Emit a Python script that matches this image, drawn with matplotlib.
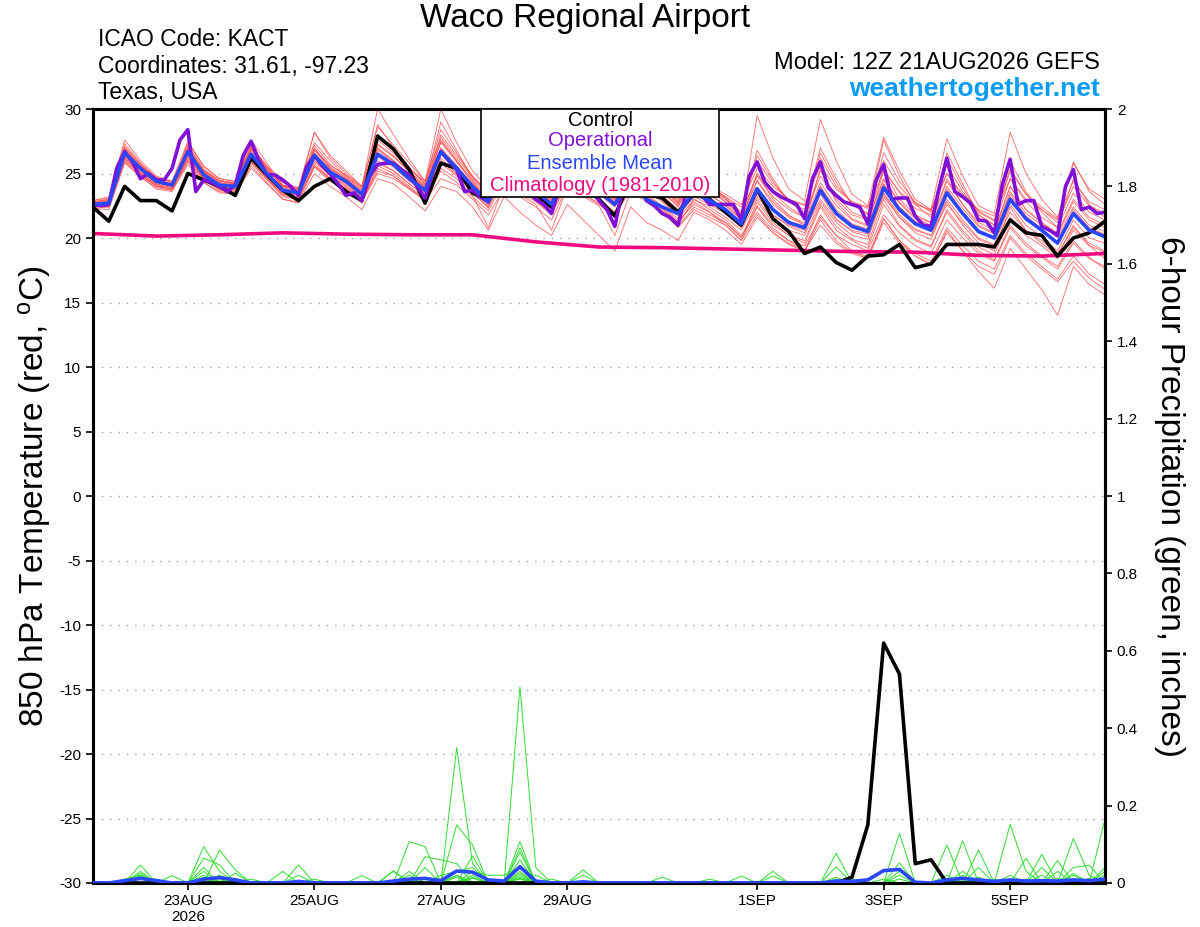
import matplotlib
matplotlib.use("Agg")
import matplotlib.pyplot as plt
import numpy as np
from matplotlib.patches import Rectangle

plt.rcParams['font.family'] = 'Liberation Sans'
plt.rcParams['mathtext.fontset'] = 'custom'
plt.rcParams['mathtext.rm'] = 'Liberation Sans'
plt.rcParams['mathtext.it'] = 'Liberation Sans'

# ---- DATA ----
# 6-hourly steps from 21AUG 12Z, 3-hourly for the operational run
hrs6 = np.arange(0, 385, 6)
hrs3 = np.arange(0, 385, 3)
hrs24 = np.arange(0, 385, 24)

tick_hours = [36, 84, 132, 180, 252, 300, 348]
tick_labels = ['23AUG\n2026', '25AUG', '27AUG', '29AUG', '1SEP', '3SEP', '5SEP']

control_t = [22.4, 21.3, 24.0, 22.9, 22.9, 22.1, 25.0, 24.5, 24.0, 23.3, 26.2, 24.9, 23.7, 22.9,
             24.0, 24.6, 23.6, 22.9, 27.9, 26.9, 25.3, 22.7, 25.8, 25.4, 23.5, 22.9, 25.2, 24.4,
             23.4, 22.4, 25.0, 24.0, 23.0, 21.7, 24.5, 23.4, 23.1, 22.0, 23.4, 23.0, 22.0, 21.0,
             23.8, 21.5, 20.5, 18.8, 19.3, 18.1, 17.5, 18.6, 18.7, 19.5, 17.7, 18.0, 19.5, 19.5,
             19.5, 19.3, 21.4, 20.4, 20.2, 18.6, 20.0, 20.4, 21.3]

mean_t = [22.6, 22.7, 26.6, 25.4, 24.4, 24.1, 26.7, 24.9, 24.1, 24.0, 26.5, 25.0, 23.7, 23.5,
          26.4, 25.1, 24.4, 23.4, 26.5, 25.7, 24.6, 23.7, 26.7, 25.4, 24.0, 22.8, 25.6, 24.6,
          23.6, 22.6, 25.4, 24.4, 23.6, 22.6, 24.6, 23.0, 22.4, 21.9, 23.5, 22.9, 22.2, 21.1,
          23.8, 22.2, 21.2, 20.8, 23.7, 21.9, 20.9, 20.5, 23.9, 22.2, 21.1, 20.6, 23.5, 21.9,
          20.5, 20.0, 23.0, 21.5, 20.6, 19.6, 21.9, 20.6, 20.1]

oper_t = [22.6, 22.5, 22.6, 25.4, 26.7, 25.9, 24.6, 25.0, 24.5, 24.5, 25.4, 27.6, 28.4, 23.6,
          24.5, 24.3, 24.0, 23.6, 24.1, 26.4, 27.5, 26.0, 24.9, 24.9, 24.5, 24.0, 23.3, 25.5,
          26.4, 25.6, 25.0, 24.2, 23.3, 23.5, 22.9, 24.8, 25.7, 25.8, 25.8, 25.3, 24.9, 24.0,
          23.1, 25.2, 26.7, 26.0, 25.3, 23.6, 23.7, 23.2, 22.8, 24.5, 25.8, 25.2, 24.6, 23.6,
          23.0, 22.6, 21.9, 24.0, 25.6, 25.0, 24.4, 23.8, 22.9, 22.2, 20.9, 23.8, 25.5, 24.6,
          22.9, 22.5, 21.9, 21.6, 21.0, 23.5, 25.2, 23.3, 22.6, 22.6, 22.6, 22.6, 21.4, 24.8,
          25.9, 24.3, 23.6, 23.2, 22.9, 22.6, 21.5, 24.6, 25.9, 23.9, 23.3, 22.8, 22.6, 22.4,
          21.1, 24.4, 25.7, 23.0, 23.1, 23.1, 21.7, 21.0, 20.9, 23.8, 26.2, 23.6, 23.2, 22.7,
          21.4, 21.3, 20.4, 24.1, 26.1, 22.6, 22.9, 22.9, 20.9, 20.6, 20.2, 24.0, 25.3, 22.2,
          22.4, 21.9, 22.0]

climo_t = [20.35, 20.15, 20.25, 20.4, 20.3, 20.25, 20.25, 19.7, 19.3, 19.25, 19.15, 19.05,
           18.95, 18.9, 18.65, 18.6, 18.8]

members_t = [
    [22.8, 23.0, 27.3, 25.8, 24.6, 24.0, 27.2, 25.3, 24.5, 24.2, 27.0, 25.6, 24.3, 23.9, 27.4, 26.0, 24.8, 23.9, 28.8, 27.0, 25.5, 24.2, 29.0, 26.8, 24.6, 23.5, 27.0, 25.8, 24.5, 23.4, 26.8, 25.5, 24.2, 23.2, 26.2, 25.0, 23.8, 22.8, 25.0, 24.0, 23.0, 21.8, 25.0, 23.5, 22.4, 21.6, 25.2, 23.3, 22.0, 21.5, 25.4, 23.5, 22.3, 21.8, 25.0, 23.2, 21.8, 21.0, 24.6, 22.8, 21.6, 20.8, 23.5, 22.0, 21.4],
    [22.3, 22.2, 25.8, 24.8, 23.8, 23.6, 25.9, 24.3, 23.5, 23.4, 25.6, 24.3, 23.0, 22.8, 25.5, 24.4, 23.7, 22.8, 25.0, 24.6, 23.8, 22.9, 25.2, 24.3, 23.2, 22.1, 24.4, 23.6, 22.8, 21.8, 24.2, 23.4, 22.7, 21.7, 23.8, 22.9, 22.0, 20.9, 22.4, 21.8, 21.2, 20.1, 22.5, 21.0, 20.2, 19.6, 22.4, 20.6, 19.8, 19.2, 22.6, 20.9, 19.8, 19.3, 22.2, 20.6, 19.3, 18.7, 21.6, 20.2, 19.4, 18.4, 20.6, 19.4, 18.9],
    [22.6, 22.9, 26.9, 25.6, 24.7, 24.3, 27.0, 25.2, 24.4, 24.3, 27.6, 25.8, 24.1, 23.9, 28.2, 26.2, 25.0, 24.0, 30.0, 28.0, 26.1, 24.4, 30.0, 27.4, 25.2, 23.8, 27.8, 26.0, 24.5, 23.1, 27.2, 25.6, 24.3, 23.0, 26.5, 25.2, 23.9, 22.6, 25.0, 24.2, 23.1, 21.8, 29.5, 26.2, 23.8, 22.9, 29.2, 26.0, 23.4, 22.5, 27.8, 25.2, 23.0, 22.2, 27.7, 24.8, 22.5, 21.9, 28.2, 25.0, 23.0, 21.6, 25.9, 23.6, 22.6],
    [22.5, 22.6, 26.4, 25.2, 24.3, 24.0, 26.5, 24.8, 24.0, 23.8, 26.2, 24.9, 23.6, 23.3, 26.0, 24.8, 24.1, 23.1, 26.0, 25.2, 24.2, 23.3, 26.2, 25.0, 23.7, 22.5, 25.0, 24.2, 23.2, 22.2, 24.8, 23.9, 23.0, 22.0, 24.0, 23.2, 22.3, 21.2, 22.8, 22.0, 21.0, 19.8, 22.4, 20.8, 19.8, 19.0, 21.8, 20.2, 19.0, 18.4, 21.5, 19.8, 18.6, 17.9, 20.6, 19.0, 17.4, 16.1, 19.2, 17.6, 16.0, 14.0, 17.8, 16.4, 15.6],
    [22.7, 22.8, 26.8, 25.5, 24.6, 24.4, 26.9, 25.2, 24.4, 24.3, 26.9, 25.4, 24.0, 23.8, 26.9, 25.6, 24.9, 24.0, 27.6, 26.6, 25.3, 24.4, 27.8, 26.2, 24.7, 23.6, 26.6, 25.5, 24.4, 23.4, 26.4, 25.3, 24.4, 23.5, 25.8, 24.9, 24.0, 23.0, 24.4, 23.8, 23.2, 22.4, 26.0, 24.2, 23.0, 22.5, 26.2, 24.0, 22.8, 22.3, 26.0, 24.0, 22.7, 22.1, 25.6, 23.6, 22.1, 21.4, 25.2, 23.4, 22.2, 21.2, 24.0, 22.5, 21.9],
    [22.4, 22.5, 26.2, 25.0, 24.1, 23.8, 26.3, 24.6, 23.8, 23.6, 26.0, 24.6, 23.3, 23.0, 25.8, 24.6, 23.9, 22.9, 25.4, 24.8, 23.8, 22.9, 24.6, 24.1, 23.0, 21.8, 23.8, 23.2, 22.4, 21.4, 24.0, 23.4, 22.6, 21.6, 24.2, 23.2, 22.2, 21.0, 23.0, 22.2, 21.4, 20.2, 22.0, 20.6, 19.8, 19.4, 21.6, 20.2, 19.5, 19.0, 21.8, 20.4, 19.4, 18.8, 21.4, 20.0, 18.8, 18.2, 20.8, 19.4, 18.5, 17.6, 19.6, 18.4, 17.8],
    [22.9, 23.1, 27.0, 25.7, 24.5, 24.1, 27.4, 25.5, 24.6, 24.4, 27.1, 25.4, 24.0, 23.7, 27.0, 25.4, 24.5, 23.5, 27.2, 26.3, 25.1, 24.0, 27.5, 26.0, 24.4, 23.1, 26.1, 25.0, 23.9, 22.9, 25.9, 24.8, 23.9, 22.8, 25.4, 24.3, 23.3, 22.2, 24.0, 23.3, 22.6, 21.5, 24.5, 22.8, 21.7, 21.2, 24.3, 22.5, 21.4, 20.9, 24.5, 22.7, 21.5, 21.0, 24.0, 22.3, 20.9, 20.3, 23.6, 21.9, 21.0, 20.0, 22.4, 21.0, 20.5],
    [22.5, 22.7, 26.5, 25.3, 24.4, 24.2, 26.6, 24.9, 24.2, 24.1, 26.3, 25.1, 23.9, 23.6, 26.8, 25.4, 24.6, 23.6, 27.0, 26.0, 24.9, 23.9, 26.9, 25.6, 24.2, 23.0, 25.8, 24.8, 23.8, 22.8, 25.6, 24.6, 23.8, 22.9, 25.2, 24.2, 23.2, 22.1, 24.2, 23.4, 22.5, 21.4, 25.0, 23.0, 21.8, 21.0, 25.4, 22.8, 21.5, 21.0, 25.2, 23.0, 21.8, 21.2, 24.6, 22.6, 21.0, 20.4, 24.0, 22.2, 21.2, 20.2, 22.8, 21.4, 20.8],
    [22.6, 22.4, 26.0, 24.9, 24.0, 23.7, 26.1, 24.5, 23.7, 23.5, 25.8, 24.5, 23.2, 23.0, 25.6, 24.5, 23.8, 22.7, 25.6, 25.0, 24.0, 23.1, 25.8, 24.8, 23.5, 22.3, 24.9, 24.0, 23.0, 22.0, 24.6, 23.8, 23.0, 22.0, 24.2, 23.3, 22.4, 21.3, 22.6, 22.0, 21.2, 20.0, 22.8, 21.2, 20.2, 19.8, 22.6, 20.9, 19.9, 19.5, 23.0, 21.0, 19.9, 19.4, 22.0, 20.4, 19.0, 18.3, 21.0, 19.6, 18.6, 17.8, 19.8, 18.5, 17.6],
    [22.7, 22.9, 27.1, 25.8, 24.7, 24.3, 26.8, 25.1, 24.3, 24.2, 26.8, 25.3, 24.0, 23.8, 26.5, 25.2, 24.5, 23.5, 26.8, 25.9, 24.8, 23.9, 27.4, 25.9, 24.3, 23.0, 26.4, 25.2, 24.0, 22.9, 26.0, 24.9, 24.0, 23.0, 25.6, 24.6, 23.6, 22.4, 24.8, 24.0, 23.2, 22.0, 26.4, 24.4, 22.8, 22.2, 26.6, 24.3, 22.6, 21.9, 26.6, 24.4, 22.8, 22.0, 26.2, 23.9, 22.0, 21.3, 25.4, 23.4, 22.4, 21.5, 24.4, 22.8, 22.2],
    [22.4, 22.6, 26.3, 25.1, 24.2, 23.9, 26.4, 24.7, 23.9, 23.8, 26.2, 24.8, 23.5, 23.3, 26.2, 24.9, 24.2, 23.2, 26.3, 25.5, 24.4, 23.5, 26.5, 25.2, 23.8, 22.6, 25.3, 24.4, 23.4, 22.4, 25.1, 24.2, 23.4, 22.4, 24.8, 23.8, 22.8, 21.7, 23.2, 22.6, 21.9, 20.8, 23.4, 21.8, 20.9, 20.4, 23.4, 21.5, 20.5, 20.1, 23.5, 21.8, 20.7, 20.2, 23.0, 21.4, 20.0, 19.5, 22.6, 21.0, 20.1, 19.0, 21.4, 20.0, 19.6],
    [22.8, 23.0, 26.7, 25.4, 24.4, 24.1, 26.8, 25.0, 24.1, 24.0, 27.0, 25.5, 24.1, 23.6, 28.2, 26.4, 25.2, 24.0, 28.6, 27.2, 25.8, 24.4, 28.4, 26.6, 24.8, 23.4, 26.2, 25.2, 24.2, 23.0, 26.0, 25.0, 24.1, 23.1, 25.5, 24.6, 23.6, 22.5, 24.4, 23.6, 22.8, 21.6, 24.4, 22.6, 21.6, 21.0, 24.0, 22.2, 21.1, 20.7, 24.2, 22.4, 21.3, 20.8, 23.6, 22.0, 20.6, 20.0, 23.2, 21.6, 20.6, 19.6, 22.0, 20.7, 20.2],
    [22.3, 22.4, 25.9, 24.7, 23.9, 23.7, 25.7, 24.3, 23.6, 23.4, 25.4, 24.2, 23.0, 22.7, 25.0, 24.0, 23.2, 22.2, 24.6, 24.2, 23.2, 22.1, 24.0, 23.6, 22.4, 20.6, 23.2, 22.0, 21.0, 20.2, 22.6, 21.4, 20.2, 19.0, 22.4, 21.2, 20.6, 19.8, 22.0, 21.4, 20.6, 19.5, 21.6, 20.4, 19.5, 19.0, 21.4, 19.8, 18.9, 18.6, 21.5, 19.8, 18.8, 18.2, 20.8, 19.4, 18.2, 17.6, 20.2, 18.8, 17.8, 16.8, 18.6, 17.2, 16.4],
    [22.6, 22.8, 26.6, 25.4, 24.5, 24.2, 26.9, 25.1, 24.3, 24.1, 26.6, 25.1, 23.8, 23.6, 26.6, 25.3, 24.6, 23.6, 26.9, 26.0, 24.9, 24.0, 27.0, 25.6, 24.1, 22.9, 25.7, 24.7, 23.7, 22.7, 25.5, 24.5, 23.7, 22.7, 25.1, 24.1, 23.1, 22.0, 23.6, 23.0, 22.3, 21.2, 23.9, 22.3, 21.3, 20.9, 24.0, 22.0, 21.0, 20.6, 24.2, 22.3, 21.2, 20.7, 23.8, 22.0, 20.6, 20.1, 23.4, 21.7, 20.7, 19.7, 22.2, 20.8, 20.3],
    [22.5, 22.6, 26.5, 25.2, 24.2, 23.9, 26.5, 24.7, 23.9, 23.8, 26.4, 24.9, 23.6, 23.4, 26.2, 25.0, 24.3, 23.3, 26.4, 25.6, 24.5, 23.6, 26.6, 25.3, 23.9, 22.7, 25.5, 24.5, 23.5, 22.5, 25.3, 24.3, 23.5, 22.5, 25.0, 24.0, 23.0, 21.9, 24.8, 23.8, 22.8, 21.8, 26.8, 24.6, 22.8, 22.0, 27.0, 24.6, 22.6, 21.8, 27.6, 24.8, 22.6, 21.6, 26.6, 24.2, 21.8, 21.0, 26.0, 23.6, 22.0, 20.8, 24.6, 22.6, 21.6],
    [22.7, 22.7, 26.4, 25.3, 24.3, 24.0, 26.6, 24.8, 24.0, 23.9, 26.5, 25.0, 23.7, 23.5, 26.4, 25.0, 24.3, 23.3, 26.6, 25.8, 24.7, 23.8, 26.8, 25.4, 24.0, 22.8, 25.6, 24.6, 23.6, 22.6, 25.4, 24.4, 23.6, 22.6, 24.9, 23.9, 22.9, 21.8, 23.4, 22.8, 22.0, 20.9, 23.2, 21.8, 21.0, 20.6, 23.0, 21.4, 20.6, 20.3, 23.2, 21.6, 20.6, 20.2, 22.6, 21.2, 19.9, 19.4, 22.0, 20.6, 19.8, 18.8, 20.8, 19.6, 19.0],
    [22.8, 22.9, 26.9, 25.6, 24.5, 24.2, 27.1, 25.3, 24.4, 24.2, 26.9, 25.3, 24.0, 23.7, 26.8, 25.5, 24.7, 23.7, 27.3, 26.4, 25.2, 24.1, 27.6, 26.0, 24.5, 23.3, 26.4, 25.3, 24.3, 23.3, 26.2, 25.1, 24.2, 23.3, 25.6, 24.8, 23.9, 22.9, 24.6, 24.0, 23.4, 22.6, 25.4, 24.0, 23.0, 22.6, 25.6, 23.8, 22.8, 22.4, 25.2, 23.6, 22.6, 22.2, 25.0, 23.4, 22.2, 21.7, 24.6, 23.0, 22.2, 21.4, 25.8, 23.8, 23.0],
    [22.5, 22.5, 26.2, 25.0, 24.1, 23.8, 26.2, 24.6, 23.8, 23.7, 26.1, 24.7, 23.4, 23.2, 26.0, 24.8, 24.0, 23.0, 25.8, 25.2, 24.2, 23.3, 26.0, 24.9, 23.6, 22.4, 24.6, 23.8, 22.9, 21.9, 24.6, 23.7, 22.9, 21.9, 24.4, 23.4, 22.5, 21.5, 23.0, 22.4, 21.6, 20.6, 23.0, 21.4, 20.6, 20.2, 22.8, 21.2, 20.2, 19.9, 23.4, 21.6, 20.4, 19.9, 22.8, 21.0, 19.6, 19.0, 22.4, 20.6, 19.6, 18.6, 21.0, 19.4, 18.4],
    [22.9, 23.2, 27.6, 26.0, 24.8, 24.4, 27.5, 25.6, 24.6, 24.4, 27.2, 25.5, 24.1, 23.8, 27.2, 25.7, 24.8, 23.8, 27.8, 26.8, 25.4, 24.2, 28.0, 26.4, 24.8, 23.6, 26.8, 25.6, 24.5, 23.4, 26.6, 25.4, 24.4, 23.3, 25.9, 24.8, 23.8, 22.7, 24.6, 23.8, 23.0, 22.0, 24.8, 23.2, 22.2, 21.6, 24.8, 23.0, 21.8, 21.4, 24.6, 22.8, 21.6, 21.2, 24.4, 22.6, 21.2, 20.6, 24.0, 22.2, 21.2, 20.4, 23.0, 21.6, 21.0],
    [22.4, 22.5, 26.1, 24.9, 24.0, 23.8, 26.0, 24.5, 23.8, 23.6, 25.9, 24.6, 23.4, 23.1, 25.6, 24.6, 23.8, 22.8, 25.2, 24.8, 23.9, 23.0, 25.4, 24.6, 23.3, 20.8, 24.2, 23.4, 22.6, 20.6, 24.0, 23.2, 22.5, 20.2, 23.6, 22.8, 22.0, 20.8, 22.2, 21.6, 21.0, 19.8, 21.8, 20.4, 19.6, 19.0, 21.0, 19.6, 18.8, 18.4, 21.2, 19.6, 18.6, 18.0, 20.4, 19.0, 17.8, 17.2, 20.0, 18.6, 17.6, 16.6, 18.2, 16.9, 16.0],
]

# 6-hour precipitation, inches: {step index: amount}, zero elsewhere
members_p = [
    {3: .047, 7: .094, 8: .03, 13: .047, 20: .107, 21: .094, 23: .35, 24: .05, 27: .09, 47: .077, 51: .128, 55: .02, 58: .152, 59: .03, 64: .03},
    {3: .03, 8: .085, 9: .034, 19: .03, 21: .068, 22: .06, 23: .05, 27: .507, 28: .04, 31: .034, 54: .098, 56: .04, 62: .115, 63: .02},
    {3: .025, 7: .064, 8: .047, 12: .03, 21: .04, 23: .15, 24: .098, 27: .107, 41: .018, 47: .042, 51: .052, 55: .109, 60: .074, 64: .165},
    {2: .01, 3: .02, 7: .04, 9: .025, 17: .019, 20: .03, 24: .07, 27: .08, 36: .015, 43: .03, 50: .01, 56: .085, 59: .064, 61: .058},
    {3: .015, 5: .019, 8: .02, 13: .02, 22: .02, 23: .03, 24: .04, 27: .06, 29: .01, 43: .018, 51: .02, 54: .02, 60: .04, 62: .04, 63: .046},
    {3: .01, 4: .01, 7: .03, 19: .032, 24: .03, 25: .02, 26: .02, 27: .04, 39: .01, 47: .01, 55: .03, 61: .03},
    {8: .02, 20: .02, 23: .02, 28: .02, 31: .02, 48: .01, 58: .02, 64: .02},
    {3: .012, 10: .01, 14: .01, 21: .015, 24: .02, 27: .03, 55: .015, 60: .02},
    {2: .008, 9: .012, 23: .015, 27: .02, 51: .01, 56: .015, 62: .02},
    {7: .015, 24: .012, 27: .015, 59: .01},
    {4: .008, 22: .01, 27: .01, 61: .012},
    {3: .018, 8: .012, 23: .02, 57: .01, 63: .012},
    {20: .01, 24: .015, 47: .015, 64: .04},
    {3: .02, 7: .02, 27: .025, 51: .03, 62: .025},
    {8: .008, 27: .012, 55: .01},
    {},
]
mean_p = {2: .006, 3: .012, 4: .006, 7: .01, 8: .014, 9: .008, 13: .004, 19: .005, 20: .01, 21: .012,
          22: .006, 23: .031, 24: .028, 25: .008, 26: .005, 27: .042, 28: .005, 31: .003, 47: .005,
          48: .004, 49: .008, 50: .032, 51: .035, 52: .002, 54: .008, 55: .012, 56: .008, 57: .004,
          58: .008, 59: .005, 60: .006, 61: .005, 62: .008, 63: .006, 64: .01}
control_p = {48: .015, 49: .15, 50: .62, 51: .54, 52: .05, 53: .06}


def fill(d):
    a = np.zeros(len(hrs6))
    for k in d:
        a[k] = d[k]
    return a


for m in members_t:
    assert len(m) == len(hrs6), len(m)
assert len(control_t) == len(hrs6) and len(mean_t) == len(hrs6) and len(oper_t) == len(hrs3)

# ---- PLOT ----
fig = plt.figure(figsize=(12, 9.27), dpi=100)
ax = fig.add_axes([93/1200, 1-883/927, 1012/1200, 774/927])
ax2 = ax.twinx()

for m in members_t:
    ax.plot(hrs6, m, color='#ff5050', lw=0.6, alpha=0.85, zorder=2)
ax.plot(hrs24, climo_t, color='#f00a80', lw=2.6, zorder=3)
ax.plot(hrs6, control_t, color='black', lw=2.6, zorder=4)
ax.plot(hrs3, oper_t, color='#8010d8', lw=2.6, zorder=5)
ax.plot(hrs6, mean_t, color='#2a46ff', lw=2.6, zorder=6)

for m in members_p:
    ax2.plot(hrs6, fill(m), color='#30dd30', lw=0.7, zorder=2)
ax2.plot(hrs6, fill(control_p), color='black', lw=2.6, zorder=3)
ax2.plot(hrs6, fill(mean_p), color='#2a46ff', lw=2.6, zorder=4)

ax.set_xlim(0, 384)
ax.set_ylim(-30, 30)
ax2.set_ylim(0, 2)
ax.set_yticks(np.arange(-30, 31, 5))
ax.set_yticklabels([str(v) for v in range(-30, 31, 5)])
ax2.set_yticks(np.arange(0, 2.01, 0.2))
ax2.set_yticklabels(['0', '0.2', '0.4', '0.6', '0.8', '1', '1.2', '1.4', '1.6', '1.8', '2'])
ax.set_xticks(tick_hours)
ax.set_xticklabels(tick_labels)

for v in range(-25, 30, 5):
    ax.axhline(v, color='#a0a0a0', lw=1.0, ls=(0, (1, 5)), zorder=1)

ax.tick_params(axis='both', direction='out', length=5, width=1.2, labelsize=11)
ax.tick_params(axis='x', pad=3)
ax2.tick_params(axis='y', direction='out', length=5, width=1.2, labelsize=11)
for a in (ax, ax2):
    for s in a.spines.values():
        s.set_linewidth(2.2)

ax.set_ylabel(r'850 hPa Temperature (red, $^{\rm o}$C)', fontsize=24)
ax.yaxis.set_label_coords(-0.040, 0.5)
ax2.set_ylabel('6-hour Precipitation (green, inches)', fontsize=24, rotation=270)
ax2.yaxis.set_label_coords(1.079, 0.5)

# legend box
ax2.add_patch(Rectangle((0.383, 0.886), 0.236, 0.114, transform=ax2.transAxes,
                        facecolor='white', edgecolor='black', lw=1.2, zorder=10, clip_on=False))
leg_names = ['Control', 'Operational', 'Ensemble Mean', 'Climatology (1981-2010)']
leg_colors = ['black', '#8010d8', '#2a46ff', '#f00a80']
leg_y = [0.9845, 0.9587, 0.930, 0.9018]
for n, c, y in zip(leg_names, leg_colors, leg_y):
    ax2.text(0.501, y, n, color=c, fontsize=14.5, ha='center', va='center',
             transform=ax2.transAxes, zorder=11)

fig.text(585/1200, 1-18/927, 'Waco Regional Airport', fontsize=24, ha='center', va='center')
fig.text(98/1200, 1-40/927, 'ICAO Code: KACT', fontsize=16.5, ha='left', va='center')
fig.text(98/1200, 1-66/927, 'Coordinates: 31.61, -97.23', fontsize=16.5, ha='left', va='center')
fig.text(98/1200, 1-92/927, 'Texas, USA', fontsize=16.5, ha='left', va='center')
fig.text(1100/1200, 1-63/927, 'Model: 12Z 21AUG2026 GEFS', fontsize=17, ha='right', va='center')
fig.text(1100/1200, 1-89/927, 'weathertogether.net', fontsize=19, fontweight='bold',
         color='#0a9cf5', ha='right', va='center')

fig.savefig('out.png', dpi=100)
